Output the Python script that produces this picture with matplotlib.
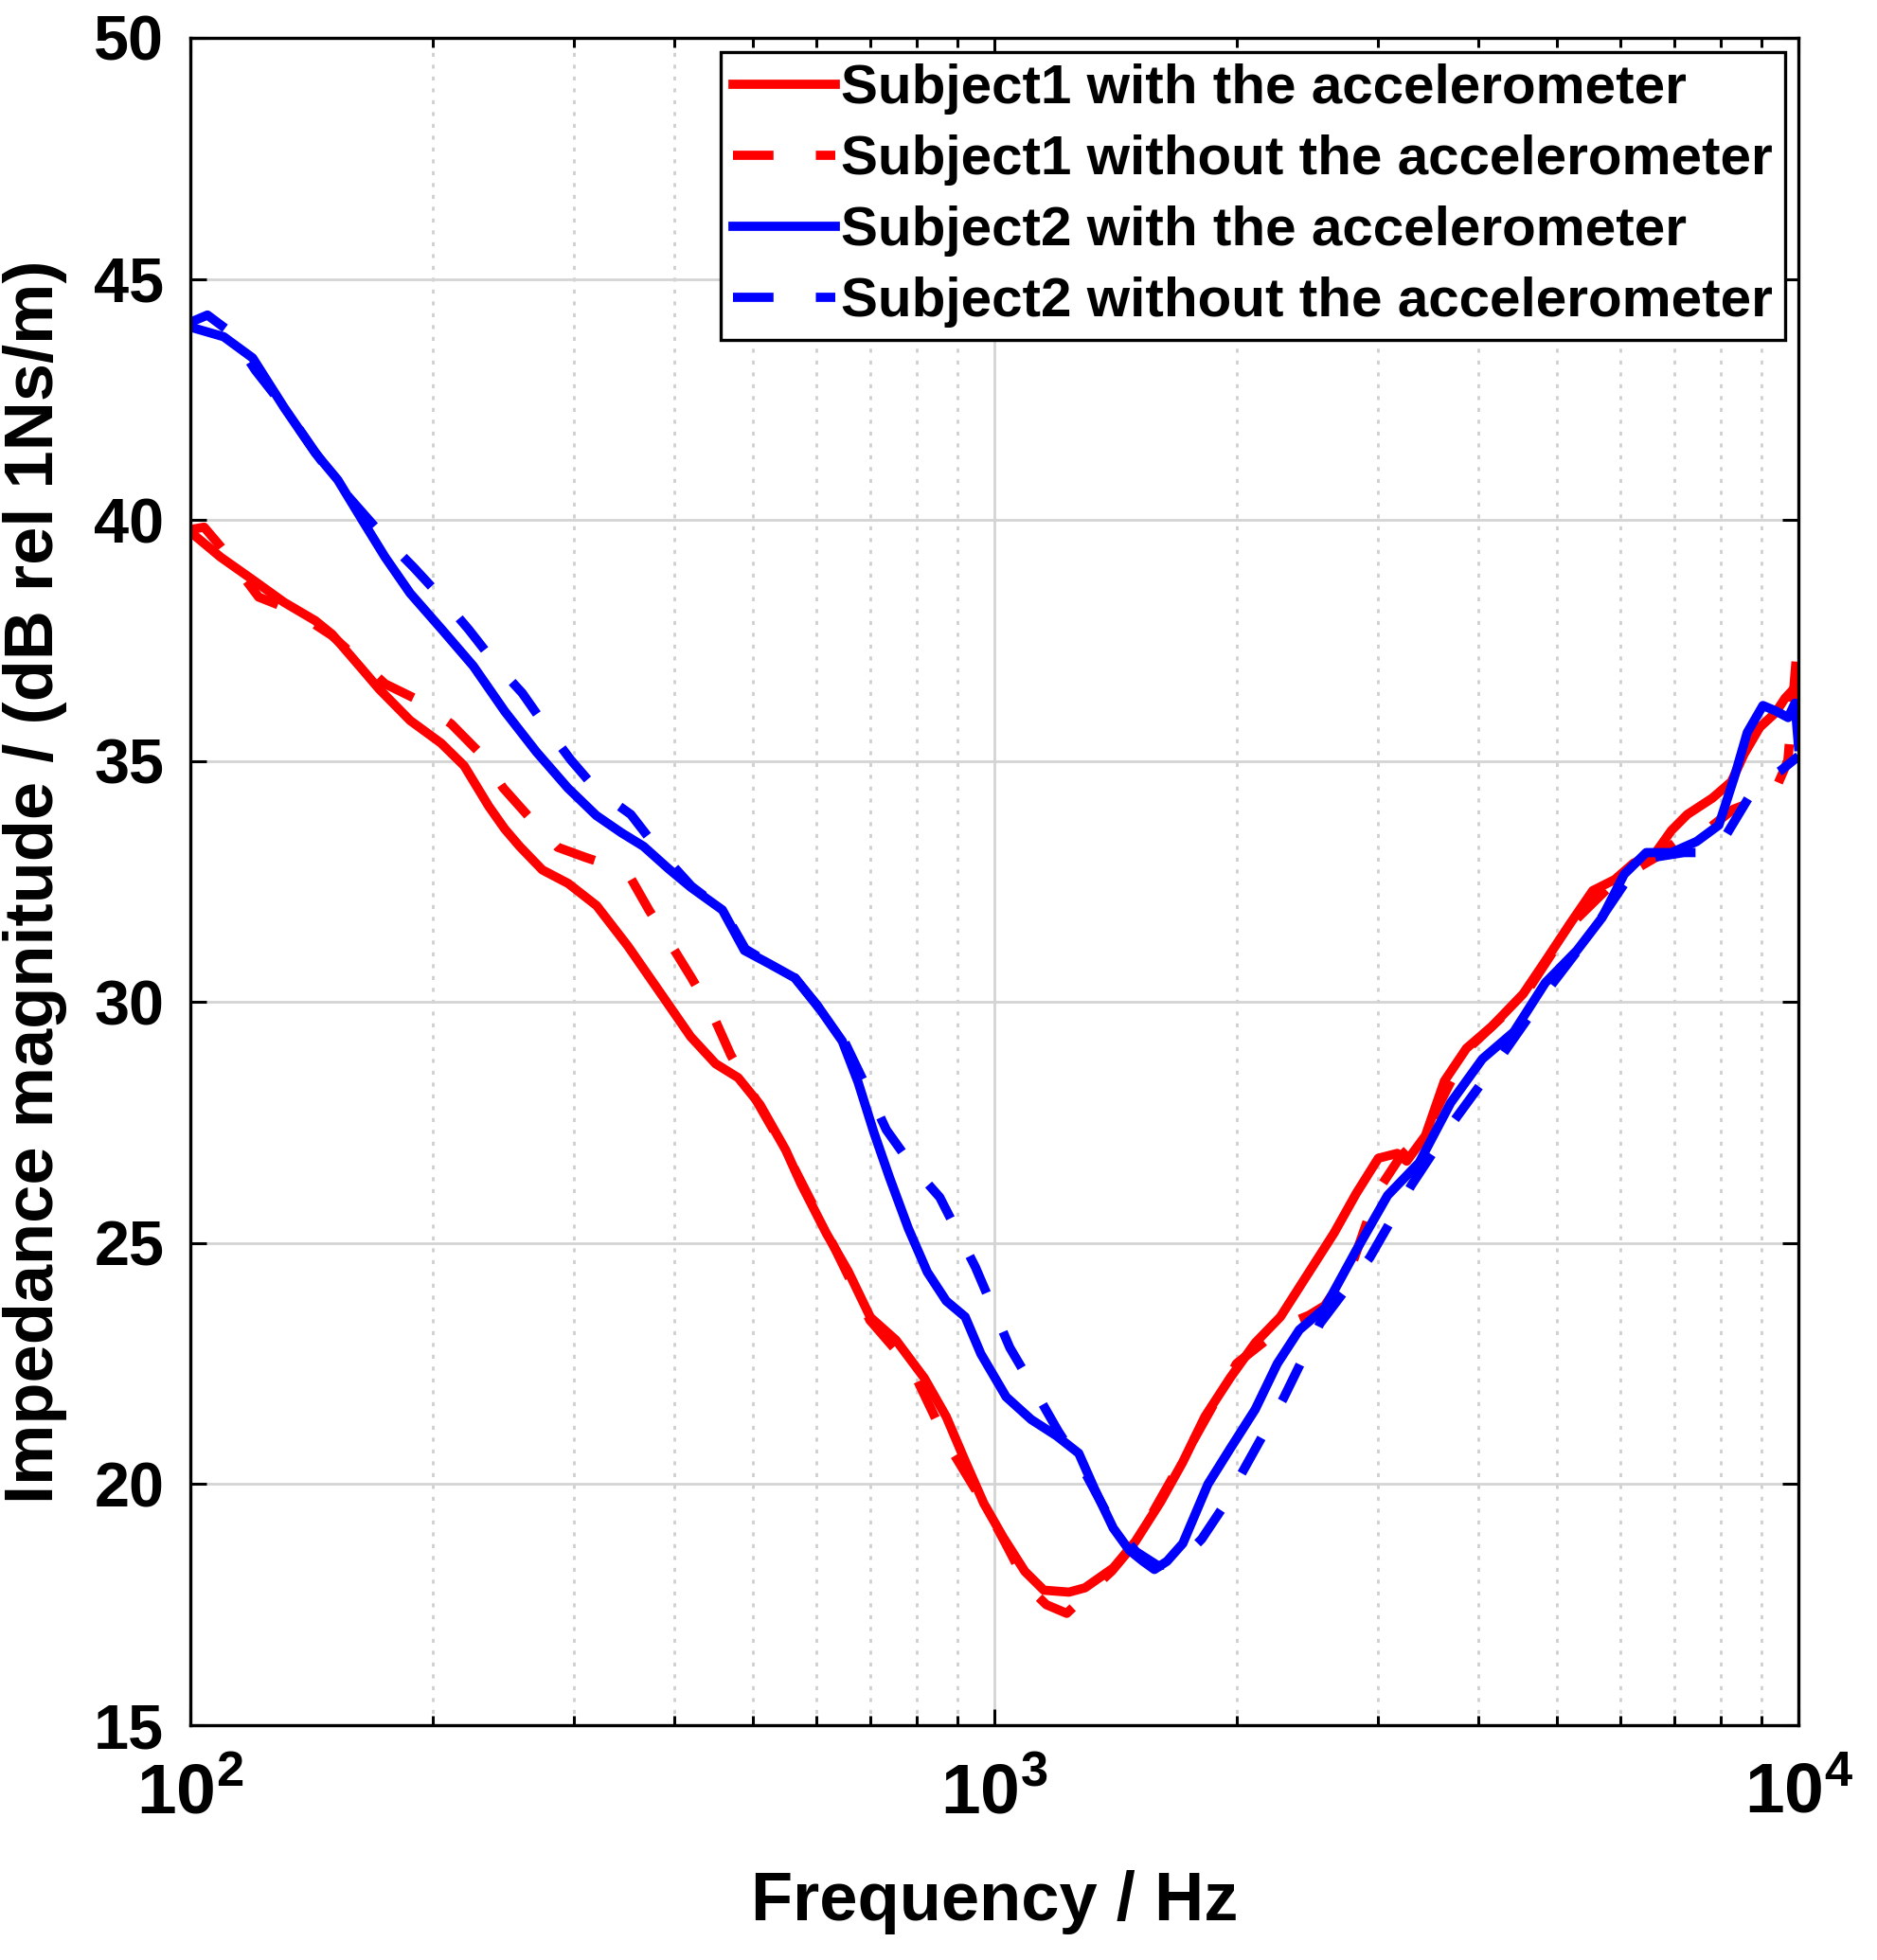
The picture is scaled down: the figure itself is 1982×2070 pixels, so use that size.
import numpy as np
import matplotlib
matplotlib.use("Agg")
import matplotlib.pyplot as plt
from matplotlib.ticker import FuncFormatter, LogLocator, MultipleLocator

plt.rcParams["font.family"] = ["Liberation Sans", "DejaVu Sans"]
plt.rcParams["font.weight"] = "bold"
plt.rcParams["mathtext.fontset"] = "custom"
plt.rcParams["mathtext.rm"] = "Liberation Sans:bold"
plt.rcParams["mathtext.bf"] = "Liberation Sans:bold"

# Subject1 with the accelerometer (red solid)
f_s1_with = [100, 109, 119.5, 130.8, 143, 150, 164, 171.5, 187.6, 205, 219, 235, 246, 257, 274, 295,
             320, 350, 383, 419, 450, 480, 511, 550, 575, 618, 658, 701, 754, 818, 871, 920, 970,
             1025, 1091, 1152, 1238, 1296, 1405, 1497, 1609, 1715, 1827, 1963, 2110, 2268, 2460,
             2645, 2818, 3002, 3169, 3256, 3436, 3627, 3864, 4153, 4546, 4843, 5206, 5547, 5908,
             6236, 6643, 6950, 7272, 7814, 8251, 8555, 8950, 9363, 9620, 10000]
z_s1_with = [39.75, 39.23, 38.76, 38.29, 37.91, 37.63, 36.88, 36.5, 35.84, 35.37, 34.9, 34.06, 33.59,
             33.22, 32.74, 32.46, 32.0, 31.16, 30.22, 29.28, 28.72, 28.43, 27.87, 26.93, 26.22, 25.2,
             24.41, 23.46, 22.99, 22.2, 21.4, 20.47, 19.6, 18.9, 18.19, 17.8, 17.76, 17.85, 18.26,
             18.81, 19.63, 20.46, 21.4, 22.2, 22.93, 23.47, 24.39, 25.21, 26.03, 26.76, 26.86, 26.7,
             27.23, 28.36, 29.04, 29.49, 30.17, 30.85, 31.64, 32.31, 32.54, 32.88, 33.1, 33.56, 33.89,
             34.23, 34.57, 35.14, 35.7, 36.0, 36.3, 36.6]

# Subject1 without the accelerometer (red dashed)
f_s1_without = [100, 104, 109, 121.6, 135, 150, 174.6, 190, 211, 228, 244.9, 265, 286.3, 310, 330,
                351.5, 372, 395.3, 420, 446.5, 470, 500, 550, 620, 700, 789, 875, 970, 1030, 1101,
                1160, 1230, 1300, 1400, 1500, 1700, 2000, 2300, 2460, 2574, 2780, 2900, 3002, 3200,
                3436, 3864, 4546, 5206, 5908, 6643, 7272, 7745, 8300, 8870, 9300, 9700, 10000]
z_s1_without = [39.8, 39.85, 39.45, 38.4, 38.1, 37.6, 36.6, 36.3, 35.77, 35.2, 34.44, 33.8, 33.21,
                33.0, 32.85, 32.62, 31.9, 31.21, 30.5, 29.73, 28.9, 28.1, 26.9, 25.2, 23.4, 22.4,
                20.83, 19.6, 18.8, 17.87, 17.5, 17.32, 17.7, 18.2, 18.8, 20.4, 22.5, 23.3, 23.5,
                23.7, 24.52, 25.4, 26.1, 26.8, 27.3, 29.0, 30.1, 31.6, 32.5, 33.0, 33.5, 33.61, 34.0,
                34.18, 34.3, 35.0, 37.7]

# Subject2 with the accelerometer (blue solid)
f_s2_with = [100, 110, 119.5, 130.8, 143, 152.5, 163.8, 174.6, 187.6, 205.4, 224.8, 246, 269.3,
             294.7, 319.7, 343.7, 366, 393.5, 419.2, 458.8, 488.7, 525.3, 564.6, 601.5, 646.7, 676.6,
             707.8, 740.4, 781.6, 825, 871, 919.5, 962, 1034, 1111, 1195, 1273, 1331, 1405, 1471,
             1530, 1581, 1639, 1715, 1843, 1963, 2110, 2248, 2394, 2574, 2818, 3083, 3375, 3693,
             4044, 4425, 4843, 5302, 5697, 6070, 6466, 6950, 7469, 7960, 8326, 8635, 9031, 9363,
             9707, 9900, 10000]
z_s2_with = [44.0, 43.8, 43.36, 42.33, 41.39, 40.83, 39.98, 39.23, 38.48, 37.73, 36.97, 36.03, 35.19,
             34.44, 33.87, 33.51, 33.23, 32.76, 32.38, 31.91, 31.07, 30.79, 30.5, 29.94, 29.19, 28.34,
             27.3, 26.36, 25.3, 24.4, 23.8, 23.47, 22.7, 21.81, 21.34, 21.0, 20.64, 19.91, 19.09,
             18.63, 18.4, 18.23, 18.4, 18.77, 20.0, 20.73, 21.55, 22.5, 23.2, 23.65, 24.85, 25.99,
             26.67, 27.91, 28.82, 29.38, 30.4, 31.07, 31.75, 32.65, 33.1, 33.1, 33.33, 33.67, 34.68,
             35.59, 36.15, 36.04, 35.9, 36.2, 35.3]

# Subject2 without the accelerometer (blue dashed)
f_s2_without = [100, 105, 112, 120.5, 130, 143, 155, 175, 189.4, 205, 221.8, 240, 258.6, 277, 297.3,
                320, 353, 380, 420, 460, 490, 525, 565, 600, 650, 690, 733.7, 790, 855, 947, 1045,
                1100, 1200, 1300, 1400, 1500, 1600, 1700, 1810, 1920, 2045, 2288, 2540, 2930, 3300,
                3722, 4267, 4900, 5521, 6100, 6600, 7200, 7886, 8830, 9500, 10000]
z_s2_without = [44.1, 44.25, 43.9, 43.1, 42.4, 41.4, 40.6, 39.6, 39.02, 38.4, 37.73, 37.0, 36.41,
                35.7, 35.02, 34.4, 33.89, 33.2, 32.4, 31.9, 31.1, 30.8, 30.5, 29.95, 29.2, 28.3,
                27.35, 26.6, 25.95, 24.5, 22.83, 22.2, 21.1, 20.2, 19.2, 18.6, 18.3, 18.4, 18.86,
                19.5, 20.32, 21.78, 23.33, 24.7, 26.2, 27.52, 28.87, 30.3, 31.43, 32.5, 33.0, 33.1,
                33.1, 34.46, 34.8, 35.1]

labels = ["Subject1 with the accelerometer", "Subject1 without the accelerometer",
          "Subject2 with the accelerometer", "Subject2 without the accelerometer"]

fig = plt.figure(figsize=(9.915, 10.35), dpi=200)
ax = fig.add_axes([0.1014, 0.1198, 0.8563, 0.8609])

lw = 3.5
dash = (4.4, 4.6)
ax.plot(f_s1_with, z_s1_with, color="#ff0000", lw=lw, label=labels[0])
ax.plot(f_s1_without, z_s1_without, color="#ff0000", lw=lw, dashes=dash, label=labels[1])
ax.plot(f_s2_with, z_s2_with, color="#0000ff", lw=lw, label=labels[2])
ax.plot(f_s2_without, z_s2_without, color="#0000ff", lw=lw, dashes=dash, label=labels[3])

ax.set_xscale("log")
ax.set_xlim(100, 1e4)
ax.set_ylim(15, 50)
ax.yaxis.set_major_locator(MultipleLocator(5))
ax.xaxis.set_major_locator(LogLocator(base=10, numticks=10))
ax.xaxis.set_minor_locator(LogLocator(base=10, subs=np.arange(2, 10), numticks=20))
ax.xaxis.set_major_formatter(FuncFormatter(lambda v, p: r"$10^{%d}$" % int(round(np.log10(v)))))

ax.grid(True, which="major", color="#d4d4d4", lw=1.0, ls="-")
ax.grid(True, which="minor", axis="x", color="#cfcfcf", lw=1.0, ls=(0, (1.5, 3)))
ax.set_axisbelow(True)

ax.tick_params(which="both", direction="in", top=True, right=True, width=1.1, colors="black")
ax.tick_params(which="major", length=6, pad=10)
ax.tick_params(axis="y", which="major", labelsize=24)
ax.tick_params(axis="x", which="major", labelsize=27, pad=14)
ax.tick_params(which="minor", length=3.5)
for s in ax.spines.values():
    s.set_linewidth(1.2)
    s.set_color("black")

ax.set_xlabel("Frequency / Hz", fontsize=26, fontweight="bold", labelpad=16)
ax.set_ylabel("Impedance magnitude / (dB rel 1Ns/m)", fontsize=26, fontweight="bold", labelpad=10)

leg = ax.legend(loc="upper right", fontsize=21, handlelength=1.85, handletextpad=0.1,
                labelspacing=0.36, borderpad=0.22, borderaxespad=0.25, fancybox=False,
                framealpha=1, edgecolor="black")
leg.get_frame().set_linewidth(1.2)

fig.savefig("out.png", dpi=200)
